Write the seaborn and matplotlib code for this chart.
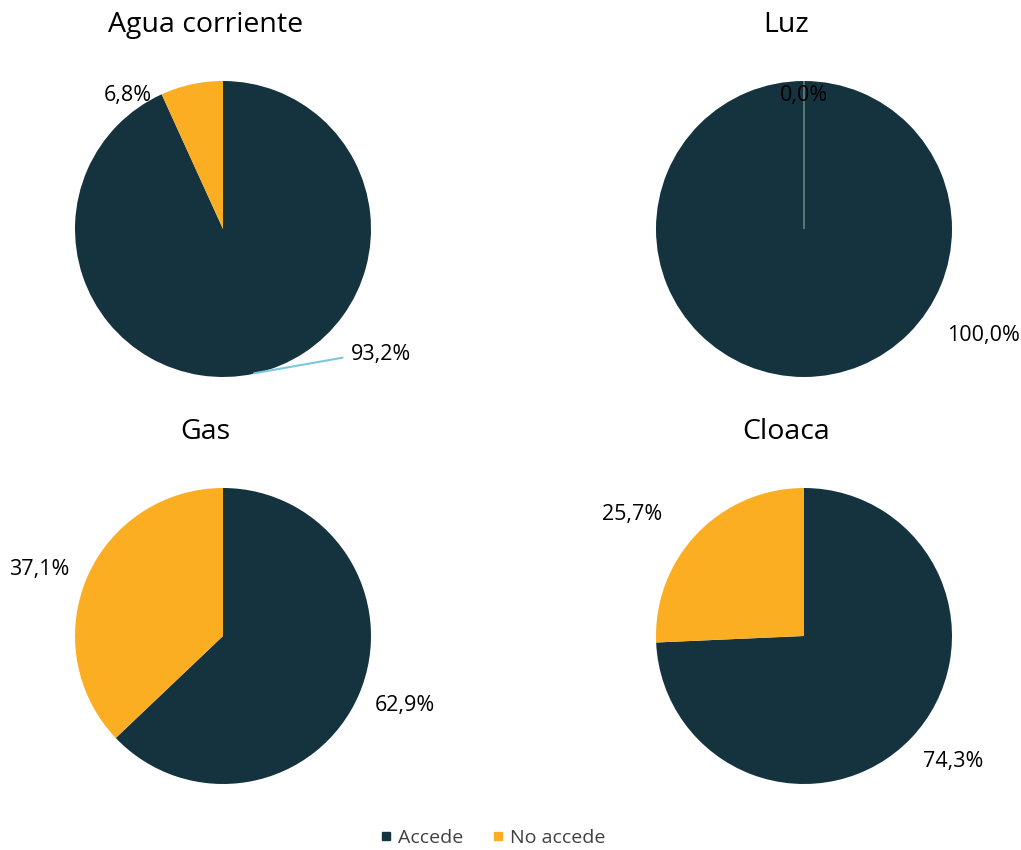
import matplotlib
matplotlib.use("Agg")
import matplotlib.pyplot as plt
from matplotlib.lines import Line2D
import seaborn as sns

# datos
servicios = ["Agua corriente", "Luz", "Gas", "Cloaca"]
categorias = ["Accede", "No accede"]
accede = [93.2, 100.0, 62.9, 74.3]
no_accede = [6.8, 0.0, 37.1, 25.7]

colores = ["#14333F", "#FBAE21"]

# posiciones de etiquetas (en radios del pie), como las deja Excel
pos_accede = [(1.07, -0.85), (1.21, -0.72), (1.23, -0.47), (1.01, -0.85)]
pos_no_accede = [(-0.64, 0.905), (0.0, 0.905), (-1.24, 0.45), (-1.16, 0.82)]

sns.set_style("white")
plt.rcParams['font.family'] = ['Open Sans', 'DejaVu Sans']

fig = plt.figure(figsize=(10.21, 8.5), dpi=100)
W, H = 1021, 850
R = 148
centros = [(223, 229), (804, 229), (223, 636), (804, 636)]

for i, serv in enumerate(servicios):
    cx, cy = centros[i]
    side = 3 * R
    ax = fig.add_axes([(cx - 1.5 * R) / W, (H - cy - 1.5 * R) / H, side / W, side / H])
    vals = [accede[i], no_accede[i]]
    wedges, _ = ax.pie(vals, colors=colores, startangle=90,
                       counterclock=False, radius=1,
                       wedgeprops=dict(linewidth=0))
    if no_accede[i] == 0:
        # la porción vacía queda como una línea fina
        wedges[1].set_edgecolor("#8FA898")
        wedges[1].set_linewidth(0.8)
    ax.set_xlim(-1.5, 1.5)
    ax.set_ylim(-1.5, 1.5)
    ax.set_aspect("equal")
    ax.axis("off")

    ax.text(-0.12, 1.38, serv, ha="center", va="center", fontsize=20.5, color="black")

    txt_a = f"{accede[i]:.1f}%".replace(".", ",")
    txt_n = f"{no_accede[i]:.1f}%".replace(".", ",")
    xa, ya = pos_accede[i]
    if i == 0:
        ax.annotate(txt_a, xy=(0.21, -0.975), xytext=(xa, ya), ha="center", va="center",
                    fontsize=15.5, color="black",
                    arrowprops=dict(arrowstyle="-", color="#7EC6E0", lw=1.5,
                                    shrinkA=4, shrinkB=0,
                                    connectionstyle="angle,angleA=0,angleB=10,rad=0"))
    else:
        ax.text(xa, ya, txt_a, ha="center", va="center", fontsize=15.5, color="black")
    xn, yn = pos_no_accede[i]
    ax.text(xn, yn, txt_n, ha="center", va="center", fontsize=15.5, color="black")

handles = [Line2D([0], [0], marker="s", linestyle="", markersize=6,
                  markerfacecolor=c, markeredgecolor=c) for c in colores]
fig.legend(handles, categorias, loc="center", bbox_to_anchor=(0.48, 1 - 838 / H),
           ncol=2, frameon=False, fontsize=14, handletextpad=0.0, handlelength=1.2,
           columnspacing=1.2, labelcolor="#404040")

fig.savefig("out.png", dpi=100)
